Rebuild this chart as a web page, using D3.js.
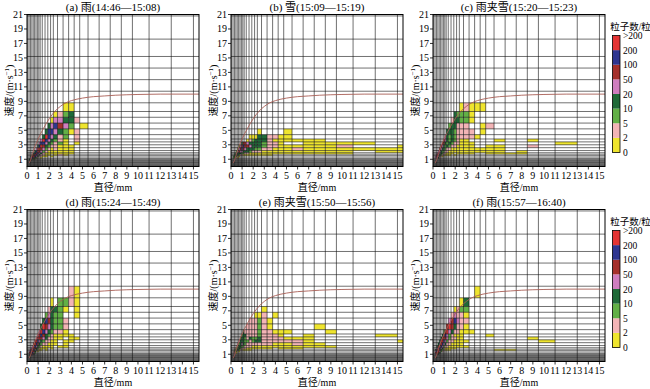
<!DOCTYPE html>
<html>
<head>
<meta charset="utf-8">
<script src="https://cdn.jsdelivr.net/npm/d3@7"></script>
<style>
body { margin: 0; background: #fff; }
text { font-family: "Liberation Serif", "Times New Roman", "Noto Sans CJK SC", serif; fill: #000; }
</style>
</head>
<body>
<div id="chart"></div>
<script>
// Parsivel class centres, used as the pcolor vertices
const diamCentres = [0.062, 0.187, 0.312, 0.437, 0.562, 0.687, 0.812, 0.937, 1.062, 1.187,
  1.375, 1.625, 1.875, 2.125, 2.375, 2.75, 3.25, 3.75, 4.25, 4.75,
  5.5, 6.5, 7.5, 8.5, 9.5, 11, 13, 15, 17];
const velCentres = [0.05, 0.15, 0.25, 0.35, 0.45, 0.55, 0.65, 0.75, 0.85, 0.95,
  1.1, 1.3, 1.5, 1.7, 1.9, 2.2, 2.6, 3.0, 3.4, 3.8,
  4.4, 5.2, 6.0, 6.8, 7.6, 8.8, 10.4, 12.0, 13.6, 15.2, 17.6, 20.8];

const xTicks = d3.range(0, 16);
const yTicks = [1, 3, 5, 7, 9, 11, 13, 15, 17, 19, 21];

const countBreaks = [2, 5, 10, 20, 50, 100, 200];
const countColors = ["#efe52e", "#f3b4b6", "#62b046", "#1f6a38", "#cf7dbf", "#a5302c", "#2e3590", "#e43434"];
const countLabels = ["0", "2", "5", "10", "20", "50", "100", "200", ">200"];

// terminal velocity curve
const curveD = [0.2, 0.3, 0.5, 0.75, 1.0, 1.5, 2.0, 2.5, 3.0, 3.5, 4.0, 5.0, 6.0, 7.0, 8.0, 10.0, 12.0, 15.5];
const curveV = [0.5, 0.8, 1.8, 2.9, 3.8, 5.3, 6.6, 7.6, 8.3, 8.8, 9.1, 9.45, 9.65, 9.75, 9.85, 9.95, 10.0, 10.0];

const titles = ["(a) 雨(14:46—15:08)", "(b) 雪(15:09—15:19)", "(c) 雨夹雪(15:20—15:23)",
  "(d) 雨(15:24—15:49)", "(e) 雨夹雪(15:50—15:56)", "(f) 雨(15:57—16:40)"];

// rows: [velocity vertex, first diameter vertex, counts of consecutive cells]
const cellsA = [
  [7.6, 3.25, [1, 1]],
  [6.8, 2.375, [1, 3, 7, 15]],
  [6.0, 2.125, [1, 30, 30, 15, 12, 3]],
  [5.2, 1.875, [12, 30, 150, 70, 30, 7, 0, 1]],
  [4.4, 1.625, [15, 150, 150, 30, 12, 7, 1, 3, 0]],
  [3.8, 1.375, [15, 300, 150, 30, 12, 3, 7, 0, 3]],
  [3.4, 1.187, [30, 300, 150, 30, 15, 7, 3, 1, 0, 3]],
  [3.0, 1.062, [30, 120, 150, 30, 12, 7, 4, 7, 1, 0, 1]],
  [2.6, 0.937, [15, 150, 300, 70, 15, 7, 3, 3, 1, 1, 1]],
  [2.2, 0.812, [30, 300, 250, 70, 30, 7, 3, 1, 3, 1, 1, 1]],
  [1.9, 0.687, [12, 150, 300, 70, 30, 7, 3, 1, 1, 1, 1, 1, 1]],
  [1.7, 0.562, [15, 150, 300, 150, 30, 15, 4, 1, 1, 1, 1, 1, 1, 1]],
  [1.5, 0.437, [12, 70, 300, 150, 30, 15, 4, 3, 1, 1, 0, 1, 3, 1]],
  [1.3, 0.312, [12, 70, 300, 120, 30, 12, 3, 3, 1, 1, 0, 1]],
  [1.1, 0.312, [30, 150, 70, 15, 7, 3, 0, 1]],
  [0.95, 0.187, [15, 30, 15, 7, 3]],
  [0.85, 0.187, [12, 12, 3]]
];
const cellsB = [
  [4.4, 2.375, [1, 0, 0, 0, 0, 1]],
  [3.8, 1.625, [1, 1, 1, 12, 15, 3, 3, 1, 1]],
  [3.4, 1.375, [1, 3, 7, 12, 15, 12, 3, 1, 1, 1, 1, 1, 1]],
  [3.0, 0.937, [15, 70, 70, 30, 15, 12, 12, 15, 7, 3, 3, 1, 0, 0, 1, 1, 1, 1, 1]],
  [2.6, 0.687, [7, 30, 70, 150, 70, 70, 30, 15, 15, 12, 7, 3, 3, 1, 1, 1, 1, 1, 1, 3, 0, 0, 1]],
  [2.2, 0.562, [7, 30, 70, 150, 70, 30, 15, 12, 12, 7, 7, 3, 3, 1, 1, 1, 3, 1, 1, 1, 1, 1, 1, 1]],
  [1.9, 0.437, [7, 30, 70, 30, 30, 15, 12, 12, 7, 3, 3, 3, 1, 1, 1, 1, 1, 1, 1, 1, 1, 1, 0, 1, 1]],
  [1.7, 0.312, [7, 30, 15, 15, 12, 7, 7, 3, 3, 1, 1, 1, 1, 1, 1, 1, 1, 1, 1, 1, 1, 1, 1]],
  [1.5, 0.312, [12, 15, 12, 7, 3, 3, 1, 1, 1, 1, 1, 1, 1, 1, 1]],
  [1.3, 0.187, [7, 12, 7, 3, 1]],
  [1.1, 0.187, [7, 7, 3, 1]]
];
const cellsC = [
  [7.6, 2.375, [1, 3, 1, 1, 1]],
  [6.8, 1.875, [12, 7, 7, 7, 1]],
  [6.0, 1.625, [3, 12, 12, 7, 7, 1]],
  [5.2, 1.375, [7, 15, 12, 3, 3, 3, 0, 0, 1, 3]],
  [4.4, 1.187, [15, 12, 15, 7, 3, 3, 3, 3, 0, 1]],
  [3.8, 1.062, [30, 15, 7, 12, 7, 3, 3, 3, 3, 1]],
  [3.4, 0.937, [70, 30, 12, 7, 12, 7, 3, 1, 1, 0, 0, 0, 0, 1, 0, 0, 1]],
  [3.0, 0.812, [70, 70, 12, 7, 12, 7, 3, 3, 1, 1, 1, 0, 0, 0, 0, 0, 0, 0, 0, 1]],
  [2.6, 0.687, [70, 30, 12, 7, 12, 7, 3, 3, 1, 1, 1, 1, 0, 0, 1, 1, 0, 0, 3]],
  [2.2, 0.562, [70, 30, 12, 12, 7, 3, 3, 1, 1, 1, 1, 1, 1, 1, 1, 1, 1]],
  [1.9, 0.437, [30, 30, 12, 7, 7, 3, 3, 1, 1, 1, 1, 1, 1, 1, 1, 1, 1, 1, 0, 1]],
  [1.7, 0.312, [30, 70, 30, 12, 7, 3, 3, 1, 1, 1, 0, 1, 1, 1, 1, 0, 0, 1, 1, 1, 1]],
  [1.5, 0.312, [70, 30, 12, 7, 3, 3, 1, 1, 1, 0, 1]],
  [1.3, 0.187, [30, 70, 30, 7, 3, 1]],
  [1.1, 0.187, [30, 30, 12, 3]]
];
const cellsD = [
  [8.8, 3.75, [3, 1]],
  [7.6, 2.125, [1, 0, 7, 7, 3, 1]],
  [6.8, 1.875, [3, 12, 15, 7, 1, 0, 1]],
  [6.0, 1.625, [7, 30, 15, 7, 7, 0, 0, 1]],
  [5.2, 1.375, [12, 150, 70, 15, 7, 7, 3]],
  [4.4, 1.187, [15, 300, 70, 30, 12, 7, 7, 3]],
  [3.8, 1.062, [30, 300, 150, 30, 12, 7, 3, 3, 1]],
  [3.4, 0.937, [30, 300, 150, 70, 15, 7, 3, 1, 1, 1, 1]],
  [3.0, 0.812, [30, 300, 300, 70, 30, 12, 3, 3, 1, 1, 0, 1, 1]],
  [2.6, 0.687, [70, 300, 150, 30, 15, 7, 3, 3, 1, 1, 0, 1, 1]],
  [2.2, 0.562, [70, 300, 150, 70, 15, 7, 3, 3, 1, 1, 1, 0, 1]],
  [1.9, 0.437, [30, 300, 150, 30, 12, 7, 3, 1, 1, 1, 1, 0, 1, 1]],
  [1.7, 0.312, [30, 150, 300, 70, 15, 7, 3, 1, 1, 1, 0, 1]],
  [1.5, 0.312, [70, 300, 150, 30, 12, 3, 1, 1, 0, 1]],
  [1.3, 0.187, [30, 150, 300, 70, 12, 3, 1]],
  [1.1, 0.187, [70, 300, 150, 30, 7]],
  [0.95, 0.187, [30, 150, 70, 12]],
  [0.85, 0.187, [15, 70, 30]]
];
const cellsE = [
  [6.8, 2.75, [1]],
  [6.0, 2.125, [1, 1, 3, 0, 1]],
  [5.2, 1.625, [3, 3, 3, 7, 3, 1]],
  [4.4, 1.375, [3, 3, 3, 3, 7, 3, 1, 0, 0, 0, 0, 0, 1]],
  [3.8, 1.062, [12, 3, 3, 3, 3, 3, 7, 3, 3, 1, 1, 1, 0, 0, 0, 1]],
  [3.4, 0.937, [7, 12, 12, 3, 3, 3, 3, 7, 3, 3, 3, 1, 0, 0, 1, 0, 0, 0, 0, 1]],
  [3.0, 0.812, [7, 12, 15, 7, 3, 12, 7, 7, 12, 3, 3, 3, 3, 1, 1, 1]],
  [2.6, 0.687, [3, 12, 15, 12, 7, 7, 3, 7, 12, 12, 3, 3, 3, 3, 3, 3, 1, 0, 0, 0, 0, 0, 1]],
  [2.2, 0.562, [3, 7, 12, 30, 12, 7, 3, 3, 3, 3, 3, 3, 3, 1, 1, 1, 3, 1, 1]],
  [1.9, 0.437, [3, 7, 12, 12, 7, 7, 3, 3, 3, 1, 1, 1, 1, 1, 1, 1, 1, 1, 1, 1, 1]],
  [1.7, 0.312, [3, 7, 7, 12, 7, 3, 3, 3, 1, 1, 1, 1, 1, 1, 1, 0, 1, 1, 1]],
  [1.5, 0.312, [7, 7, 12, 7, 3, 3, 1, 1, 1, 1]],
  [1.3, 0.187, [3, 7, 7, 3, 1]],
  [1.1, 0.187, [3, 3, 1]]
];
const cellsF = [
  [8.8, 3.75, [1]],
  [7.6, 2.375, [1, 12]],
  [6.8, 1.875, [1, 3, 7, 7]],
  [6.0, 1.625, [3, 30, 3, 3, 1]],
  [5.2, 1.375, [30, 70, 150, 30, 3, 3]],
  [4.4, 1.187, [70, 300, 70, 15, 3, 3, 1]],
  [3.8, 0.937, [7, 70, 300, 30, 12, 3, 3, 1, 1, 1]],
  [3.4, 0.812, [12, 300, 150, 30, 7, 3, 1, 1, 1, 0, 0, 0, 0, 1]],
  [3.0, 0.687, [12, 300, 300, 70, 30, 7, 3, 3, 1, 1, 0, 0, 0, 0, 0, 0, 0, 0, 1]],
  [2.6, 0.562, [15, 300, 300, 150, 30, 7, 3, 3, 1, 1, 1, 1, 0, 0, 0, 0, 0, 0, 0, 0, 1]],
  [2.2, 0.437, [12, 150, 300, 150, 30, 12, 3, 3, 1, 1, 1, 1]],
  [1.9, 0.312, [12, 70, 300, 150, 30, 7, 3, 3, 1, 1, 1, 1, 1, 1]],
  [1.7, 0.312, [30, 300, 150, 30, 12, 3, 1, 1, 1, 1, 1]],
  [1.5, 0.187, [12, 70, 300, 70, 15, 7, 3, 1, 1, 1, 0, 0, 0, 0, 0, 0, 0, 0, 0, 1, 1]],
  [1.3, 0.187, [30, 150, 300, 30, 7, 3]],
  [1.1, 0.187, [70, 300, 70, 12]],
  [0.95, 0.187, [30, 70, 12]]
];

const panelCells = [cellsA, cellsB, cellsC, cellsD, cellsE, cellsF];

const W = 650, H = 389;
const colX = [27, 231, 433], rowY = [14.5, 209.5];
const pw = 172, ph = 152;

const svg = d3.select("#chart").append("svg")
  .attr("width", W).attr("height", H);

const x = d3.scaleLinear().domain([0, 15.5]).range([0, pw]);
const y = d3.scaleLinear().domain([0, 21]).range([ph, 0]);
const color = d3.scaleThreshold().domain(countBreaks).range(countColors);

const curve = d3.line()
  .x(i => x(curveD[i]))
  .y(i => y(curveV[i]))
  .curve(d3.curveMonotoneX);

panelCells.forEach((rows, k) => {
  const g = svg.append("g")
    .attr("transform", "translate(" + colX[k % 3] + "," + rowY[Math.floor(k / 3)] + ")");

  g.append("clipPath").attr("id", "clip" + k)
    .append("rect").attr("width", pw).attr("height", ph);

  const plot = g.append("g").attr("clip-path", "url(#clip" + k + ")");

  // cells
  rows.forEach(r => {
    const j = velCentres.indexOf(r[0]);
    const i0 = diamCentres.indexOf(r[1]);
    r[2].forEach((n, m) => {
      if (!n) return;
      const i = i0 + m;
      plot.append("rect")
        .attr("x", x(diamCentres[i]))
        .attr("y", y(velCentres[j + 1]))
        .attr("width", x(diamCentres[i + 1]) - x(diamCentres[i]))
        .attr("height", y(velCentres[j]) - y(velCentres[j + 1]))
        .attr("fill", color(n));
    });
  });

  // pcolor edges
  plot.selectAll(".vl").data(diamCentres).enter().append("line")
    .attr("x1", d => x(d)).attr("x2", d => x(d))
    .attr("y1", 0).attr("y2", ph)
    .attr("stroke", "#111").attr("stroke-width", 0.6);
  plot.selectAll(".hl").data(velCentres).enter().append("line")
    .attr("y1", d => y(d)).attr("y2", d => y(d))
    .attr("x1", 0).attr("x2", pw)
    .attr("stroke", "#111").attr("stroke-width", 0.6);

  plot.append("path")
    .attr("d", curve(d3.range(curveD.length)))
    .attr("fill", "none")
    .attr("stroke", "#a85d55")
    .attr("stroke-width", 0.9);

  g.append("rect")
    .attr("width", pw).attr("height", ph)
    .attr("fill", "none").attr("stroke", "#000").attr("stroke-width", 1);

  // axes
  const xa = g.append("g").attr("transform", "translate(0," + ph + ")");
  xTicks.forEach(t => {
    xa.append("line").attr("x1", x(t)).attr("x2", x(t)).attr("y1", 0).attr("y2", 3)
      .attr("stroke", "#000").attr("stroke-width", 0.8);
    xa.append("text").attr("x", x(t)).attr("y", 12.5)
      .attr("text-anchor", "middle").attr("font-size", 10).text(t);
  });
  const ya = g.append("g");
  yTicks.forEach(t => {
    ya.append("line").attr("x1", -3).attr("x2", 0).attr("y1", y(t)).attr("y2", y(t))
      .attr("stroke", "#000").attr("stroke-width", 0.8);
    ya.append("text").attr("x", -4).attr("y", y(t) + 3.5)
      .attr("text-anchor", "end").attr("font-size", 10).text(t);
  });

  g.append("text").attr("x", pw / 2).attr("y", ph + 24)
    .attr("text-anchor", "middle").attr("font-size", 10).text("直径/mm");

  const yl = g.append("text")
    .attr("transform", "translate(-14.5," + (ph / 2) + ") rotate(-90)")
    .attr("text-anchor", "middle").attr("font-size", 10);
  yl.append("tspan").text("速度/(m·s");
  yl.append("tspan").attr("dy", -4).attr("font-size", 7).text("−1");
  yl.append("tspan").attr("dy", 4).text(")");

  g.append("text").attr("x", pw / 2).attr("y", -4)
    .attr("text-anchor", "middle").attr("font-size", 11).text(titles[k]);

  // colour bar beside the right-hand panels
  if (k % 3 === 2) {
    const cb = g.append("g").attr("transform", "translate(" + (pw + 7.5) + ",21)");
    const bh = 117, bw = 7.5;
    const cy = d3.scaleLinear().domain([0, countColors.length]).range([bh, 0]);
    countColors.forEach((c, i) => {
      cb.append("rect").attr("x", 0).attr("y", cy(i + 1))
        .attr("width", bw).attr("height", cy(i) - cy(i + 1)).attr("fill", c);
    });
    cb.append("rect").attr("width", bw).attr("height", bh)
      .attr("fill", "none").attr("stroke", "#000").attr("stroke-width", 0.8);
    countLabels.forEach((l, i) => {
      cb.append("text").attr("x", bw + 3).attr("y", cy(i) + 3.5)
        .attr("font-size", 9.5).text(l);
    });
    cb.append("text").attr("x", 18).attr("y", -6)
      .attr("text-anchor", "middle").attr("font-size", 9.5).text("粒子数/粒");
  }
});
</script>
</body>
</html>
